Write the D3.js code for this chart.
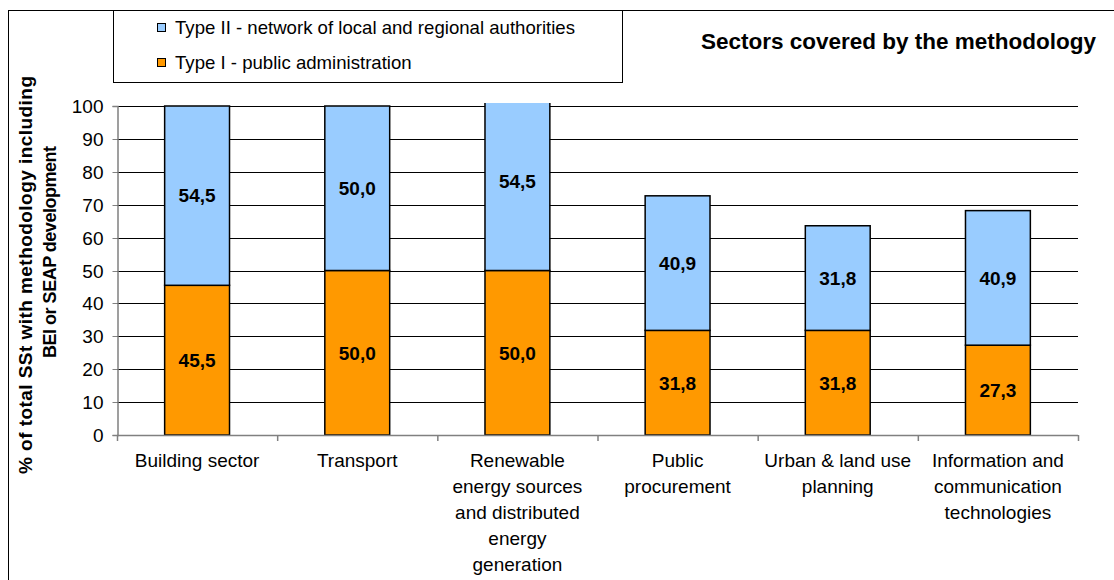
<!DOCTYPE html>
<html>
<head>
<meta charset="utf-8">
<script src="https://cdn.jsdelivr.net/npm/d3@7/dist/d3.min.js"></script>
<style>
  html, body { margin: 0; padding: 0; background: #fff; }
  svg { display: block; font-family: "Liberation Sans", Arial, sans-serif; }
</style>
</head>
<body>
<svg id="chart" width="1114" height="580"></svg>
<script>
// Sectors and the share of SSt (per type) whose methodology covers them
const categories = [
  ["Building sector"],
  ["Transport"],
  ["Renewable", "energy sources", "and distributed", "energy", "generation"],
  ["Public", "procurement"],
  ["Urban & land use", "planning"],
  ["Information and", "communication", "technologies"]
];
const typeI  = [45.5, 50.0, 50.0, 31.8, 31.8, 27.3];   // public administration
const typeII = [54.5, 50.0, 54.5, 40.9, 31.8, 40.9];   // network of local and regional authorities
const yTicks = [0, 10, 20, 30, 40, 50, 60, 70, 80, 90, 100];
const seriesNames = [
  "Type II - network of local and regional authorities",
  "Type I - public administration"
];
const colors = { typeI: "#FF9900", typeII: "#99CCFF" };

const svg = d3.select("#chart");
const plot = { left: 117, right: 1078, top: 106, bottom: 435 };

// outer chart frame (runs off the right and bottom edges)
svg.append("rect")
  .attr("x", 8.5).attr("y", 10.5).attr("width", 1200).attr("height", 700)
  .attr("fill", "none").attr("stroke", "#000").attr("stroke-width", 1);

const x = d3.scaleBand()
  .domain(d3.range(categories.length))
  .range([plot.left, plot.right])
  .padding(0);
const y = d3.scaleLinear().domain([0, 100]).range([plot.bottom, plot.top]);
const barW = x.bandwidth() * 0.405;

// gridlines
svg.append("g")
  .selectAll("line")
  .data(yTicks.filter(t => t > 0))
  .join("line")
  .attr("x1", plot.left).attr("x2", plot.right)
  .attr("y1", d => Math.round(y(d)) + 0.5).attr("y2", d => Math.round(y(d)) + 0.5)
  .attr("stroke", "#000").attr("stroke-width", 1);

// bars, clipped to the plot area (slightly above the 100 line)
svg.append("defs").append("clipPath").attr("id", "plotClip")
  .append("rect")
  .attr("x", plot.left).attr("y", plot.top - 3)
  .attr("width", plot.right - plot.left + 2).attr("height", plot.bottom - plot.top + 6);

const rows = categories.map((c, i) => ({ i, a: typeI[i], b: typeII[i] }));
const bars = svg.append("g").attr("clip-path", "url(#plotClip)");
const cx = i => x(i) + x.bandwidth() / 2;

bars.selectAll("rect.t1")
  .data(rows).join("rect").attr("class", "t1")
  .attr("x", d => cx(d.i) - barW / 2)
  .attr("width", barW)
  .attr("y", d => y(d.a))
  .attr("height", d => y(0) - y(d.a))
  .attr("fill", colors.typeI).attr("stroke", "#000").attr("stroke-width", 1.5);

bars.selectAll("rect.t2")
  .data(rows).join("rect").attr("class", "t2")
  .attr("x", d => cx(d.i) - barW / 2)
  .attr("width", barW)
  .attr("y", d => y(d.a + d.b))
  .attr("height", d => y(d.a) - y(d.a + d.b))
  .attr("fill", colors.typeII).attr("stroke", "#000").attr("stroke-width", 1.5);

// value labels
const fmt = v => v.toFixed(1).replace(".", ",");
const labels = svg.append("g")
  .attr("font-size", 19).attr("font-weight", "bold")
  .attr("text-anchor", "middle").attr("fill", "#000");
labels.selectAll("text.l1").data(rows).join("text").attr("class", "l1")
  .attr("x", d => cx(d.i)).attr("y", d => y(d.a / 2)).attr("dy", "0.36em")
  .text(d => fmt(d.a));
labels.selectAll("text.l2").data(rows).join("text").attr("class", "l2")
  .attr("x", d => cx(d.i)).attr("y", d => y(d.a + d.b / 2)).attr("dy", "0.36em")
  .text(d => fmt(d.b));

// y axis
const yAxis = svg.append("g")
  .attr("transform", `translate(${plot.left + 0.5},0)`)
  .call(d3.axisLeft(y).tickValues(yTicks).tickSize(5).tickPadding(9).tickFormat(d3.format("d")));
yAxis.select(".domain").attr("stroke", "#808080").attr("stroke-width", 1.5);
yAxis.selectAll(".tick line").attr("stroke", "#808080");
yAxis.selectAll("text").attr("font-size", 19).attr("fill", "#000")
  .attr("font-family", "Liberation Sans, Arial, sans-serif");
yAxis.selectAll(".tick").attr("transform", d => `translate(0,${Math.round(y(d)) + 0.5})`);

// x axis with ticks on category boundaries
const xAxisG = svg.append("g");
xAxisG.append("line")
  .attr("x1", plot.left).attr("x2", plot.right)
  .attr("y1", plot.bottom + 0.5).attr("y2", plot.bottom + 0.5)
  .attr("stroke", "#808080").attr("stroke-width", 1.5);
xAxisG.selectAll("line.tk")
  .data(d3.range(categories.length + 1)).join("line").attr("class", "tk")
  .attr("x1", i => (i < categories.length ? x(i) : plot.right) + 0.5)
  .attr("x2", i => (i < categories.length ? x(i) : plot.right) + 0.5)
  .attr("y1", plot.bottom).attr("y2", plot.bottom + 6)
  .attr("stroke", "#808080").attr("stroke-width", 1.5);

const catText = svg.append("g")
  .attr("font-size", 19).attr("text-anchor", "middle").attr("fill", "#000")
  .selectAll("text").data(categories).join("text")
  .attr("x", (d, i) => cx(i)).attr("y", 467);
catText.selectAll("tspan").data(d => d).join("tspan")
  .attr("x", function () { return this.parentNode.getAttribute("x"); })
  .attr("dy", (d, j) => j === 0 ? 0 : 26)
  .text(d => d);

// y axis title (two lines, rotated)
const yTitle = svg.append("g").attr("font-weight", "bold").attr("text-anchor", "middle");
yTitle.append("text")
  .attr("transform", "translate(32,275) rotate(-90)")
  .attr("font-size", 19)
  .attr("textLength", 398).attr("lengthAdjust", "spacing")
  .text("% of total SSt with methodology including");
yTitle.append("text")
  .attr("transform", "translate(56,252) rotate(-90)")
  .attr("font-size", 18)
  .attr("textLength", 212).attr("lengthAdjust", "spacing")
  .text("BEI or SEAP development");

// chart title
svg.append("text")
  .attr("x", 1096).attr("y", 49)
  .attr("text-anchor", "end").attr("font-size", 22.5).attr("font-weight", "bold")
  .text("Sectors covered by the methodology");

// legend
const legend = svg.append("g");
legend.append("rect")
  .attr("x", 113.5).attr("y", 10.5).attr("width", 509).attr("height", 72)
  .attr("fill", "#fff").attr("stroke", "#000").attr("stroke-width", 1);
const legendRows = [
  { name: seriesNames[0], color: colors.typeII, y: 27 },
  { name: seriesNames[1], color: colors.typeI, y: 62 }
];
legend.selectAll("rect.sw").data(legendRows).join("rect").attr("class", "sw")
  .attr("x", 157.5).attr("y", d => d.y - 3.5).attr("width", 8).attr("height", 8)
  .attr("fill", d => d.color).attr("stroke", "#000").attr("stroke-width", 1);
legend.selectAll("text").data(legendRows).join("text")
  .attr("x", 175).attr("y", d => d.y).attr("dy", "0.36em")
  .attr("font-size", 18.6).attr("fill", "#000")
  .text(d => d.name);
</script>
</body>
</html>
